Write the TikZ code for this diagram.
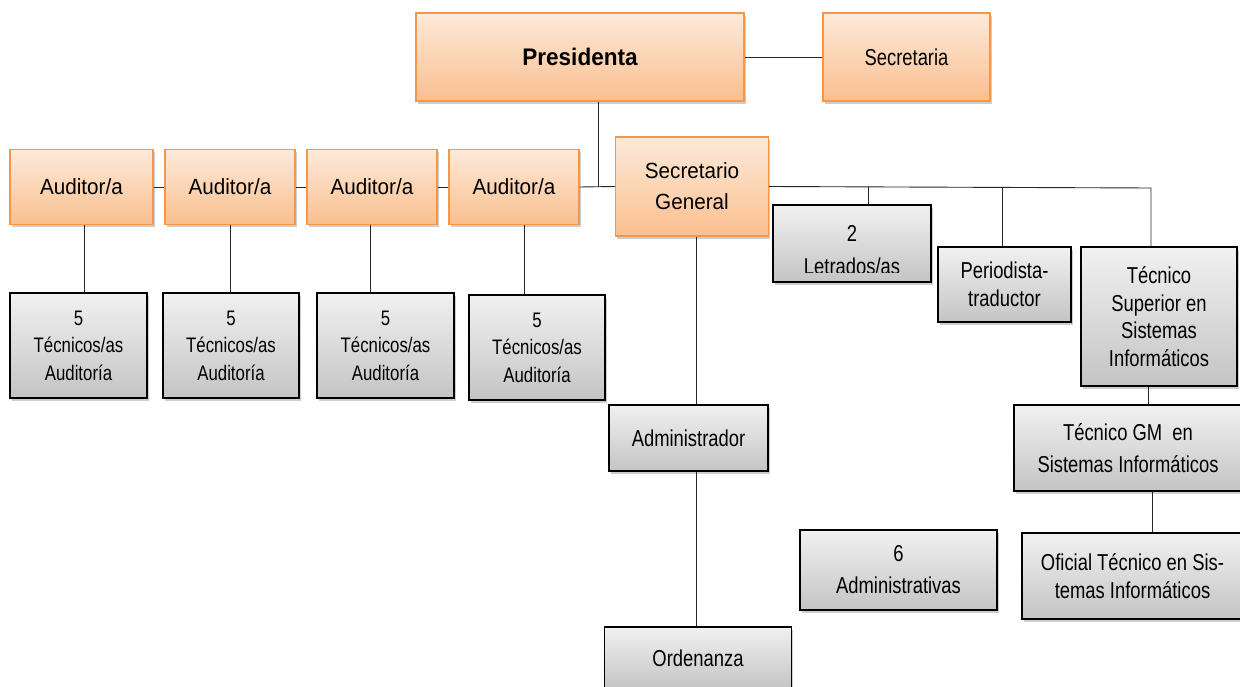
\documentclass[tikz,border=0pt]{standalone}
\usepackage{fontspec}
\setmainfont{Liberation Sans}
\newfontfamily\narrowfont[FakeStretch=0.8]{Liberation Sans}
\newfontfamily\semifont[FakeStretch=0.94]{Liberation Sans}
\usetikzlibrary{shadows}
\definecolor{otop}{RGB}{253,234,218}
\definecolor{obot}{RGB}{250,191,143}
\definecolor{oline}{RGB}{247,150,70}
\definecolor{gtop}{RGB}{241,241,241}
\definecolor{gbot}{RGB}{196,196,196}
\begin{document}
\begin{tikzpicture}[x=1pt,y=-1pt,
  shad/.style={drop shadow={shadow xshift=1.5pt,shadow yshift=-3pt,opacity=0.35,fill=black!55}},
  obox/.style={shad,draw=oline,line width=1.3pt,top color=otop,bottom color=obot,inner sep=0pt,align=center},
  gbox/.style={shad,draw=black,line width=1.2pt,top color=gtop,bottom color=gbot,inner sep=0pt,align=center},
  otext/.style={font=\semifont\fontsize{22}{31}\selectfont},
  gtext/.style={font=\narrowfont\fontsize{23}{27.5}\selectfont},
  ttext/.style={font=\narrowfont\fontsize{21}{27.5}\selectfont},
  conn/.style={draw=black!85,line width=0.9pt}]
\clip (0,0) rectangle (1240,687);
\fill[white] (0,0) rectangle (1240,687);

% top
\node[obox,minimum width=328pt,minimum height=88pt,font=\semifont\bfseries\fontsize{24}{28}\selectfont] (pres) at (580,57) {Presidenta};
\node[obox,minimum width=167pt,minimum height=88pt,gtext] (sec) at (906.5,57) {Secretaria};

% auditors
\node[obox,otext,minimum width=143pt,minimum height=75pt] (a1) at (81.5,187) {Auditor/a};
\node[obox,otext,minimum width=130pt,minimum height=75pt] (a2) at (230,187) {Auditor/a};
\node[obox,otext,minimum width=130pt,minimum height=75pt] (a3) at (372,187) {Auditor/a};
\node[obox,otext,minimum width=130pt,minimum height=75pt] (a4) at (514,187) {Auditor/a};
\node[obox,otext,minimum width=152.5pt,minimum height=99pt] (sg) at (692,186.5) {Secretario\\General};

% tecnicos
\node[gbox,ttext,minimum width=137pt,minimum height=105pt] (t1) at (78.5,345.5) {5\\Técnicos/as\\Auditoría};
\node[gbox,ttext,minimum width=136pt,minimum height=105pt] (t2) at (231,345.5) {5\\Técnicos/as\\Auditoría};
\node[gbox,ttext,minimum width=137pt,minimum height=105pt] (t3) at (385.5,345.5) {5\\Técnicos/as\\Auditoría};
\node[gbox,ttext,minimum width=136pt,minimum height=105pt] (t4) at (537,347.5) {5\\Técnicos/as\\Auditoría};

% right side
\node[gbox,minimum width=158pt,minimum height=77pt] (let) at (852,243.5) {};
\begin{scope}
  \clip (let.north west) rectangle ([yshift=10pt]let.south east);
  \node[gtext] (let2) at (852,233) {2};
  \node[gtext,anchor=base] (let3) at (852,274) {Letrados/as};
\end{scope}
\node[gbox,gtext,minimum width=133pt,minimum height=75pt] (per) at (1004.5,284.5) {Periodista-\\traductor};
\node[gbox,gtext,minimum width=156pt,minimum height=139pt] (ts) at (1159,316.5) {Técnico\\Superior en\\Sistemas\\Informáticos};
\node[gbox,font=\narrowfont\fontsize{23}{32}\selectfont,minimum width=228pt,minimum height=86pt] (tgm) at (1128,448) {Técnico GM\ \ en\\Sistemas Informáticos};
\node[gbox,gtext,minimum width=221pt,minimum height=86pt] (ofi) at (1132.5,576) {Oficial Técnico en Sis-\\temas Informáticos};
\node[gbox,font=\narrowfont\fontsize{23}{32}\selectfont,minimum width=197pt,minimum height=80pt] (adm6) at (898.5,570) {6\\Administrativas};
\node[gbox,gtext,minimum width=159pt,minimum height=66pt] (adm) at (688.5,438) {Administrador};
\node[gbox,gtext,minimum width=187pt,minimum height=62pt] (ord) at (698,658) {Ordenanza};

% connectors
\draw[conn] (pres.east) -- (sec.west);
\coordinate (j1) at (598,187);
\draw[conn] (pres.south -| j1) -- (j1);
\draw[conn] (a1.east) -- (a2.west);
\draw[conn] (a2.east) -- (a3.west);
\draw[conn] (a3.east) -- (a4.west);
\draw[conn] (a4.east) -- (sg.west);
\coordinate (v1) at (84,0);
\coordinate (v2) at (230,0);
\coordinate (v3) at (370,0);
\coordinate (v4) at (524,0);
\draw[conn] (a1.south -| v1) -- (t1.north -| v1);
\draw[conn] (a2.south -| v2) -- (t2.north -| v2);
\draw[conn] (a3.south -| v3) -- (t3.north -| v3);
\draw[conn] (a4.south -| v4) -- (t4.north -| v4);
\coordinate (hend) at (1151,188);
\draw[conn] (sg.east) -- (hend) -- (ts.north -| hend);
\coordinate (d1) at (868,187);
\coordinate (d2) at (1002,187.5);
\draw[conn] (d1) -- (let.north -| d1);
\draw[conn] (d2) -- (per.north -| d2);
\coordinate (vs) at (696,0);
\draw[conn] (sg.south -| vs) -- (adm.north -| vs);
\draw[conn] (adm.south -| vs) -- (ord.north -| vs);
\coordinate (vt) at (1148,0);
\draw[conn] (ts.south -| vt) -- (tgm.north -| vt);
\coordinate (vg) at (1152,0);
\draw[conn] (tgm.south -| vg) -- (ofi.north -| vg);
\end{tikzpicture}
\end{document}
